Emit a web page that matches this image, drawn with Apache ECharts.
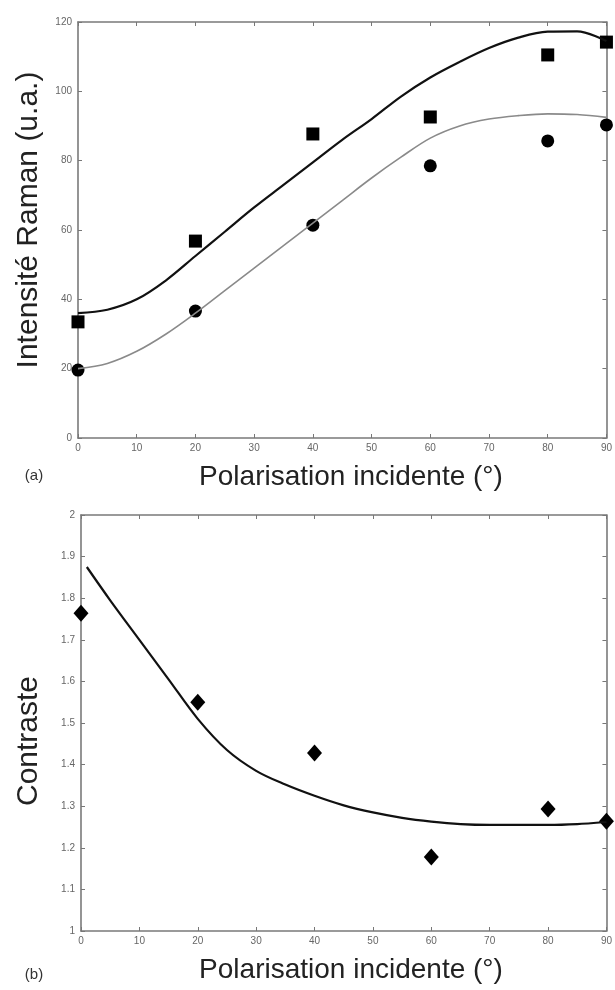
<!DOCTYPE html>
<html><head><meta charset="utf-8">
<script src="https://cdn.jsdelivr.net/npm/echarts@6/dist/echarts.min.js"></script>
<style>html,body{margin:0;padding:0;background:#fff}#c{width:615px;height:990px}</style>
</head><body><div id="c"></div>
<script>
// Panel (a) data
const anglesA = [0, 20, 40, 60, 80, 90];
const squaresA = [33.5, 56.8, 87.7, 92.6, 110.5, 114.2];
const circlesA = [19.6, 36.6, 61.4, 78.5, 85.7, 90.3];
const fitAngles = [0, 5, 10, 15, 20, 25, 30, 35, 40, 45, 50, 55, 60, 65, 70, 75, 80, 85, 90];
const fitBlackA = [36, 37, 40, 45.5, 52.5, 59.5, 66.5, 73, 79.5, 86, 92, 98.5, 104, 108.5, 112.5, 115.5, 117.2, 117.3, 114.5];
const fitGrayA = [20, 21.5, 25, 30, 36, 42.5, 49, 55.5, 62, 68.5, 75, 81, 86.5, 90, 92, 93, 93.5, 93.3, 92.5];
// Panel (b) data
const anglesB = [0, 20, 40, 60, 80, 90];
const contrastB = [1.764, 1.55, 1.428, 1.178, 1.293, 1.264];
const fitAnglesB = [1, 5, 10, 15, 20, 25, 30, 35, 40, 45, 50, 55, 60, 65, 70, 75, 80, 85, 90];
const fitB = [1.875, 1.795, 1.70, 1.605, 1.51, 1.435, 1.385, 1.352, 1.325, 1.302, 1.285, 1.272, 1.263, 1.257, 1.255, 1.255, 1.255, 1.257, 1.262];
// Axis ticks
const xTicks = {min: 0, max: 90, interval: 10};
const yTicksA = {min: 0, max: 120, interval: 20};
const yTicksB = {min: 1, max: 2, interval: 0.1};

const zip = (xs, ys) => xs.map((x, i) => [x, ys[i]]);
const font = '"Liberation Sans", Arial, sans-serif';
const axisLine = {lineStyle: {color: '#7a7a7a', width: 1.6}};
const tickStyle = {inside: true, length: 4, lineStyle: {color: '#777'}};
const lbl = {color: '#666', fontSize: 10, fontFamily: font};

function xAxes(gi) {
  return [
    {type: 'value', gridIndex: gi, ...xTicks, position: 'bottom', axisLine: {show: true, onZero: false, ...axisLine}, axisTick: tickStyle, axisLabel: {...lbl, margin: 5}, splitLine: {show: false}},
    {type: 'value', gridIndex: gi, ...xTicks, position: 'top', axisLine: {show: true, onZero: false, ...axisLine}, axisTick: tickStyle, axisLabel: {show: false}, splitLine: {show: false}}
  ];
}
function yAxes(gi, t, fmt) {
  return [
    {type: 'value', gridIndex: gi, ...t, position: 'left', axisLine: {show: true, onZero: false, ...axisLine}, axisTick: tickStyle, axisLabel: {...lbl, margin: 6, formatter: fmt}, splitLine: {show: false}},
    {type: 'value', gridIndex: gi, ...t, position: 'right', axisLine: {show: true, onZero: false, ...axisLine}, axisTick: tickStyle, axisLabel: {show: false}, splitLine: {show: false}}
  ];
}

const chart = echarts.init(document.getElementById('c'), null, {renderer: 'canvas'});
chart.setOption({
  backgroundColor: '#fff',
  animation: false,
  grid: [
    {left: 78, top: 22, width: 529, height: 416},
    {left: 81, top: 515, width: 526, height: 416}
  ],
  xAxis: [...xAxes(0), ...xAxes(1)],
  yAxis: [...yAxes(0, yTicksA, v => String(v)), ...yAxes(1, yTicksB, v => (Math.round(v * 10) / 10).toString())],
  series: [
    {type: 'line', xAxisIndex: 0, yAxisIndex: 0, data: zip(fitAngles, fitBlackA), smooth: 0.35, showSymbol: false, lineStyle: {color: '#111', width: 2.2}},
    {type: 'line', xAxisIndex: 0, yAxisIndex: 0, data: zip(fitAngles, fitGrayA), smooth: 0.35, showSymbol: false, lineStyle: {color: '#8a8a8a', width: 1.6}},
    {type: 'scatter', xAxisIndex: 0, yAxisIndex: 0, data: zip(anglesA, squaresA), symbol: 'rect', symbolSize: 13, itemStyle: {color: '#000', opacity: 1}},
    {type: 'scatter', xAxisIndex: 0, yAxisIndex: 0, data: zip(anglesA, circlesA), symbol: 'circle', symbolSize: 13, itemStyle: {color: '#000', opacity: 1}},
    {type: 'line', xAxisIndex: 2, yAxisIndex: 2, data: zip(fitAnglesB, fitB), smooth: 0.35, showSymbol: false, lineStyle: {color: '#111', width: 2.2}},
    {type: 'scatter', xAxisIndex: 2, yAxisIndex: 2, data: zip(anglesB, contrastB), symbol: 'diamond', symbolSize: [15, 17], itemStyle: {color: '#000', opacity: 1}}
  ],
  graphic: [
    {type: 'text', x: 29, y: 220, rotation: Math.PI / 2, style: {text: 'Intensité Raman (u.a.)', font: '30px ' + font, fill: '#222', textAlign: 'center', textVerticalAlign: 'middle'}},
    {type: 'text', x: 351, y: 477, style: {text: 'Polarisation incidente (°)', font: '28px ' + font, fill: '#222', textAlign: 'center', textVerticalAlign: 'middle'}},
    {type: 'text', x: 34, y: 476, style: {text: '(a)', font: '15px ' + font, fill: '#333', textAlign: 'center', textVerticalAlign: 'middle'}},
    {type: 'text', x: 29, y: 741, rotation: Math.PI / 2, style: {text: 'Contraste', font: '30px ' + font, fill: '#222', textAlign: 'center', textVerticalAlign: 'middle'}},
    {type: 'text', x: 351, y: 970, style: {text: 'Polarisation incidente (°)', font: '28px ' + font, fill: '#222', textAlign: 'center', textVerticalAlign: 'middle'}},
    {type: 'text', x: 34, y: 975, style: {text: '(b)', font: '15px ' + font, fill: '#333', textAlign: 'center', textVerticalAlign: 'middle'}}
  ]
});
</script>
</body></html>
